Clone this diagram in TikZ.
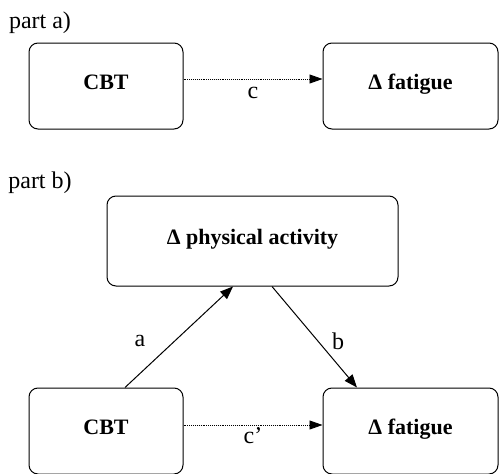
\documentclass[tikz,border=0pt]{standalone}
\usepackage{fontspec}
\setmainfont{Liberation Serif}
\usetikzlibrary{arrows.meta,calc}
\begin{document}
\begin{tikzpicture}[x=1pt,y=-1pt,
  box/.style={draw,line width=1pt,rounded corners=9pt,inner sep=0pt,
    text height=14pt,text depth=8pt,font=\fontsize{22}{24}\selectfont\bfseries},
  lbl/.style={inner sep=0pt,font=\fontsize{24}{26}\selectfont},
  solidarrow/.style={line width=1pt,-{Triangle[length=13pt,width=10pt]}},
  dotarrow/.style={line width=0.9pt,densely dotted,-{Triangle[length=13pt,width=9pt]}}]
\useasboundingbox (0,0) rectangle (499,474);
% part a
\node[lbl] (pa) at (40,23) {part a)};
\node[box,minimum width=154pt,minimum height=86pt] (cbta) at (106,86) {CBT};
\node[box,minimum width=175pt,minimum height=86pt] (fata) at (410.5,86) {Δ fatigue};
\draw[dotarrow] ([yshift=7pt]cbta.east) -- ([yshift=7pt]fata.west);
\node[lbl] (lc) at (253,93) {c};
% part b
\node[lbl] (pb) at (40,183) {part b)};
\node[box,minimum width=291pt,minimum height=90pt] (phys) at (252.5,241) {Δ physical activity};
\node[box,minimum width=154pt,minimum height=86pt] (cbtb) at (106,431) {CBT};
\node[box,minimum width=175pt,minimum height=86pt] (fatb) at (410.5,431) {Δ fatigue};
\draw[dotarrow] ([yshift=6pt]cbtb.east) -- ([yshift=6pt]fatb.west);
\node[lbl] (lcp) at (253,436) {c’};
\draw[solidarrow] ([xshift=19pt]cbtb.north) -- ([xshift=-19.5pt]phys.south);
\draw[solidarrow] ([xshift=19.5pt]phys.south) -- ([xshift=-53.5pt]fatb.north);
\node[lbl] (la) at (140,341) {a};
\node[lbl] (lb) at (338,341) {b};
\end{tikzpicture}
\end{document}
